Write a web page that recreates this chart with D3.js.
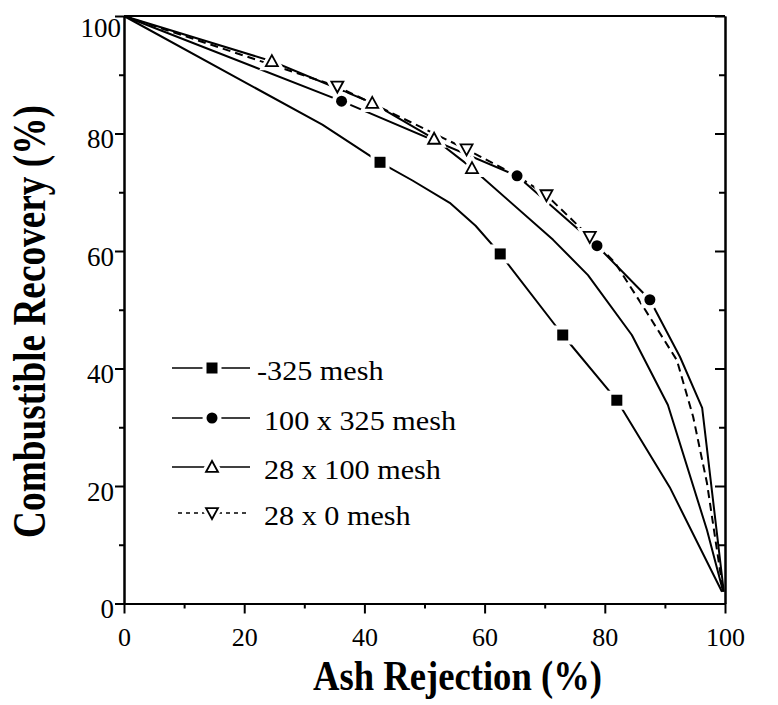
<!DOCTYPE html>
<html><head><meta charset="utf-8">
<script src="https://cdn.jsdelivr.net/npm/d3@7/dist/d3.min.js"></script>
<style>
body{margin:0;background:#fff}
</style>
</head><body>
<svg id="chart" width="778" height="705"></svg>
<script>
// ---------------- data ----------------
const seriesNames = ["-325 mesh", "100 x 325 mesh", "28 x 100 mesh", "28 x 0 mesh"];

// -325 mesh (filled squares)
const m325LineX = [0, 33, 42.6, 48, 54.2, 58.5, 62.6, 73, 82, 90.8, 99.5];
const m325LineY = [100, 81.5, 75.1, 72, 68.2, 64.3, 59.5, 45.7, 34.6, 19.8, 2];
const m325MarkX = [42.6, 62.6, 73, 82];
const m325MarkY = [75.1, 59.5, 45.7, 34.6];

// 100 x 325 mesh (filled circles)
const m100LineX = [0, 36.2, 65.4, 78.7, 87.5, 92.5, 96.2, 99.8];
const m100LineY = [100, 85.5, 72.8, 60.9, 51.7, 42, 33.3, 2];
const m100MarkX = [36.2, 65.4, 78.7, 87.5];
const m100MarkY = [85.5, 72.8, 60.9, 51.7];

// 28 x 100 mesh (open up-triangles)
const m28LineX = [0, 24.6, 41.3, 51.6, 57.9, 71.4, 77.2, 84.5, 90.5, 97, 99.7];
const m28LineY = [100, 92.3, 85.2, 79.1, 74.1, 61.9, 55.9, 45.7, 33.8, 12.5, 2];
const m28MarkX = [24.6, 41.3, 51.6, 57.9];
const m28MarkY = [92.3, 85.2, 79.1, 74.1];

// 28 x 0 mesh (open down-triangles, dashed)
const m0LineX = [0, 35.5, 57, 65.4, 70.3, 77.5, 81.7, 86.4, 92, 94.7, 97, 99.7];
const m0LineY = [100, 88, 77.3, 72.8, 69.5, 62.4, 58, 50.5, 41.4, 31.8, 20.5, 2];
const m0MarkX = [35.5, 57, 70.3, 77.5];
const m0MarkY = [88, 77.3, 69.5, 62.4];

const xMajor = [0, 20, 40, 60, 80, 100];
const xMinor = [10, 30, 50, 70, 90];
const yMajor = [0, 20, 40, 60, 80, 100];
const yMinor = [10, 30, 50, 70, 90];

const xTitle = "Ash Rejection (%)";
const yTitle = "Combustible Recovery (%)";

// ---------------- drawing ----------------
const FONT = "'Liberation Serif', 'Times New Roman', Tinos, serif";
const svg = d3.select("#chart");
const x = d3.scaleLinear().domain([0, 100]).range([124, 725]);
const y = d3.scaleLinear().domain([0, 100]).range([603.5, 16]);

const zip = (a, b) => a.map((v, i) => [v, b[i]]);
const series = [
  {name: seriesNames[0], line: zip(m325LineX, m325LineY), marks: zip(m325MarkX, m325MarkY), sym: "square", dash: null},
  {name: seriesNames[1], line: zip(m100LineX, m100LineY), marks: zip(m100MarkX, m100MarkY), sym: "circle", dash: null},
  {name: seriesNames[2], line: zip(m28LineX, m28LineY), marks: zip(m28MarkX, m28MarkY), sym: "up", dash: null},
  {name: seriesNames[3], line: zip(m0LineX, m0LineY), marks: zip(m0MarkX, m0MarkY), sym: "down", dash: "8,5"}
];

function drawSymbol(g, sym, cx, cy, halo) {
  const pad = halo ? 4 : 0;
  if (sym === "square") {
    const s = 11 + 2 * pad;
    g.append("rect").attr("x", cx - s / 2).attr("y", cy - s / 2).attr("width", s).attr("height", s)
      .attr("fill", halo ? "#fff" : "#000");
  } else if (sym === "circle") {
    g.append("circle").attr("cx", cx).attr("cy", cy).attr("r", 5.5 + pad)
      .attr("fill", halo ? "#fff" : "#000");
  } else {
    const h = 11, w = 12;
    const dir = sym === "up" ? 1 : -1;
    const pts = [[cx, cy - dir * h * 0.55], [cx - w / 2, cy + dir * h * 0.45], [cx + w / 2, cy + dir * h * 0.45]];
    g.append("polygon").attr("points", pts.map(p => p.join(",")).join(" "))
      .attr("fill", "#fff").attr("stroke", halo ? "#fff" : "#000")
      .attr("stroke-width", halo ? 8 : 1.8).attr("stroke-linejoin", "miter");
  }
}

// axes
const axisG = svg.append("g");
const bx = axisG.append("g").attr("transform", "translate(0,603.5)")
  .call(d3.axisBottom(x).tickValues(xMajor).tickSize(10).tickSizeOuter(0).tickPadding(14).tickFormat(d3.format("d")));
axisG.append("g").attr("transform", "translate(0,603.5)")
  .call(d3.axisBottom(x).tickValues(xMinor).tickSize(5).tickSizeOuter(0).tickFormat(""));
const ly = axisG.append("g").attr("transform", "translate(124,0)")
  .call(d3.axisLeft(y).tickValues(yMajor).tickSize(9).tickSizeOuter(0).tickPadding(1).tickFormat(d3.format("d")));
axisG.append("g").attr("transform", "translate(124,0)")
  .call(d3.axisLeft(y).tickValues(yMinor).tickSize(5).tickSizeOuter(0).tickFormat(""));
axisG.append("g").attr("transform", "translate(725,0)")
  .call(d3.axisLeft(y).tickValues(yMajor).tickSize(10).tickSizeOuter(0).tickFormat(""));
axisG.append("g").attr("transform", "translate(725,0)")
  .call(d3.axisLeft(y).tickValues(yMinor).tickSize(6).tickSizeOuter(0).tickFormat(""));
axisG.append("line").attr("x1", x(0)).attr("x2", x(100)).attr("y1", y(100)).attr("y2", y(100));
axisG.selectAll("path,line").attr("stroke", "#000").attr("stroke-width", 2);
axisG.selectAll("text").style("font-family", FONT).attr("fill", "#000");
bx.selectAll(".tick text").style("font-size", "26px").attr("dy", "0.71em");
ly.selectAll(".tick text").style("font-size", "27px").attr("dy", "0.52em");
// top label sits a bit lower and closer to the axis, as in the original
ly.selectAll(".tick text").filter(d => d === 100).attr("dy", "0.75em").attr("x", -3);

// lines
const lineGen = d3.line().x(d => x(d[0])).y(d => y(d[1]));
const plot = svg.append("g");
series.forEach(s => {
  plot.append("path").datum(s.line).attr("d", lineGen)
    .attr("fill", "none").attr("stroke", "#000").attr("stroke-width", 2)
    .attr("stroke-linejoin", "round")
    .attr("stroke-dasharray", s.dash);
});
series.forEach(s => s.marks.forEach(d => drawSymbol(plot, s.sym, x(d[0]), y(d[1]), true)));
series.forEach(s => s.marks.forEach(d => drawSymbol(plot, s.sym, x(d[0]), y(d[1]), false)));

// legend
const legRows = [368, 418, 467, 513];
const leg = svg.append("g");
const legTexts = [];
series.forEach((s, i) => {
  const yy = legRows[i];
  leg.append("line").attr("x1", i === 3 ? 178 : 172).attr("x2", 250).attr("y1", yy).attr("y2", yy)
    .attr("stroke", "#000").attr("stroke-width", i === 0 ? 1.3 : 1.6)
    .attr("stroke-dasharray", s.dash ? "4,4" : null);
  drawSymbol(leg, s.sym, 212, yy, true);
  drawSymbol(leg, s.sym, 212, yy, false);
  const t = leg.append("text").attr("x", 0).attr("y", 0)
    .style("font-family", FONT).style("font-size", "28px").attr("fill", "#000").text(s.name);
  legTexts.push({t, x0: i === 0 ? 257 : 264, yy});
});
const refW = legTexts[1].t.node().getComputedTextLength();
const legScale = 192 / refW;
legTexts.forEach(o => o.t.attr("transform", `translate(${o.x0},${o.yy + 12}) scale(${legScale},1)`));

// titles
const xt = svg.append("text").style("font-family", FONT).style("font-size", "42px").style("font-weight", "bold")
  .attr("fill", "#000").attr("text-anchor", "middle").text(xTitle);
const xw = xt.node().getComputedTextLength();
xt.attr("transform", `translate(457.5,690) scale(${289 / xw},1)`);

const yt = svg.append("text").style("font-family", FONT).style("font-size", "46px").style("font-weight", "bold")
  .attr("fill", "#000").attr("text-anchor", "middle").text(yTitle);
const yw = yt.node().getComputedTextLength();
yt.attr("transform", `translate(45,321.5) rotate(-90) scale(${433 / yw},1)`);
</script>
</body></html>
